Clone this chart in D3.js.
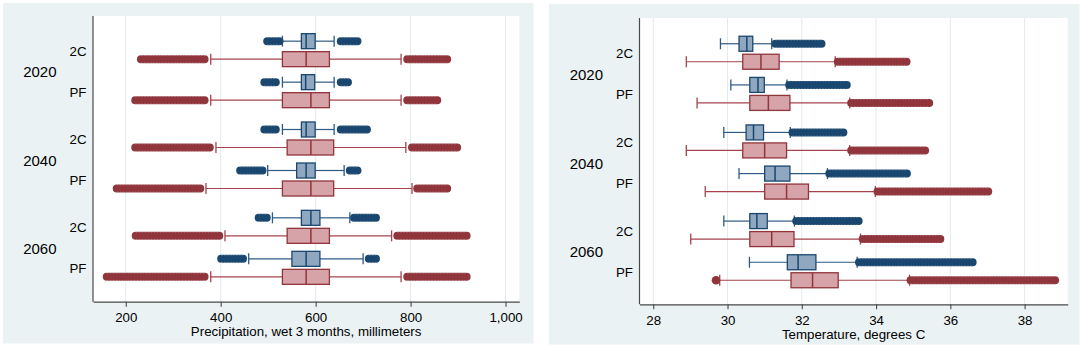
<!DOCTYPE html>
<html><head><meta charset="utf-8">
<script src="https://cdn.jsdelivr.net/npm/d3@7"></script>
<style>
html,body{margin:0;padding:0;background:#fff}
svg{display:block}
text{font-family:"Liberation Sans",Arial,Helvetica,sans-serif;fill:#000}
</style>
</head><body>
<svg id="chart" width="1084" height="347"></svg>
<script>
// ---------------- DATA ----------------
const years = ["2020", "2040", "2060"];
const scenarios = ["2C", "PF"];
const seriesNames = ["series1", "series2"];   // navy boxes, maroon boxes

// rows in order: 2020 2C, 2020 PF, 2040 2C, 2040 PF, 2060 2C, 2060 PF
// box = [lower whisker, q1, median, q3, upper whisker]; outliers = [first, last] extent or null

// Precipitation, wet 3 months, millimeters
const precipSeries1Box = [
  [530, 570, 580, 599, 639],
  [530, 570, 579, 598, 639],
  [530, 570, 580, 599, 639],
  [499, 560, 580, 599, 660],
  [509, 570, 590, 609, 672],
  [459, 550, 580, 609, 700]
];
const precipSeries1LowOut  = [[498, 524], [492, 516], [492, 516], [441, 488], [480, 497], [401, 447]];
const precipSeries1HighOut = [[653, 688], [653, 668], [653, 708], [672, 688], [681, 727], [712, 727]];

const precipSeries2Box = [
  [379, 530, 580, 629, 780],
  [379, 530, 590, 629, 780],
  [390, 540, 590, 638, 790],
  [369, 530, 590, 638, 803],
  [409, 540, 590, 629, 760],
  [379, 530, 580, 629, 780]
];
const precipSeries2LowOut  = [[232, 366], [220, 366], [220, 377], [181, 357], [221, 397], [160, 366]];
const precipSeries2HighOut = [[793, 877], [793, 856], [803, 898], [814, 877], [772, 918], [793, 918]];

const precipTicks = [200, 400, 600, 800, 1000];
const precipDomain = [131, 1029];

// Temperature, degrees C
const tempSeries1Box = [
  [29.81, 30.31, 30.52, 30.68, 31.19],
  [30.09, 30.60, 30.82, 30.99, 31.60],
  [29.90, 30.50, 30.70, 30.97, 31.69],
  [30.31, 31.00, 31.28, 31.68, 32.69],
  [29.90, 30.60, 30.79, 31.07, 31.80],
  [30.59, 31.61, 31.90, 32.38, 33.49]
];
const tempSeries1LowOut  = [null, null, null, null, null, null];
const tempSeries1HighOut = [[31.29, 32.53], [31.66, 33.21], [31.75, 33.12], [32.74, 34.83], [31.85, 33.53], [33.54, 36.60]];

const tempSeries2Box = [
  [28.89, 30.41, 30.90, 31.39, 32.90],
  [29.18, 30.60, 31.10, 31.68, 33.29],
  [28.89, 30.41, 31.00, 31.59, 33.29],
  [29.40, 31.00, 31.59, 32.18, 33.98],
  [29.01, 30.60, 31.19, 31.79, 33.58],
  [29.79, 31.71, 32.29, 32.98, 34.90]
];
const tempSeries2LowOut  = [null, null, null, null, null, [29.69, 29.69]];
const tempSeries2HighOut = [[32.97, 34.82], [33.33, 35.43], [33.33, 35.32], [34.04, 37.02], [33.64, 35.73], [34.93, 38.82]];

const tempTicks = [28, 30, 32, 34, 36, 38];
const tempDomain = [27.63, 39.16];

// ---------------- STYLE ----------------
const COLORS = {
  bg: "#EAF2F3",
  grid: "#E2EBEE",
  axis: "#4a4a4a",
  series1: { line: "#1A476F", fill: "#90A8BF", whisker: "#2E5A84" },
  series2: { line: "#90353B", fill: "#D6A3A8", whisker: "#A4434B" }
};

const svg = d3.select("#chart");

function drawPanel(cfg) {
  const g = svg.append("g");
  g.append("rect").attr("x", cfg.bg[0]).attr("y", cfg.bg[1])
    .attr("width", cfg.bg[2] - cfg.bg[0]).attr("height", cfg.bg[3] - cfg.bg[1])
    .attr("fill", COLORS.bg);
  g.append("rect").attr("x", cfg.plot[0]).attr("y", cfg.plot[1])
    .attr("width", cfg.plot[2] - cfg.plot[0]).attr("height", cfg.plot[3] - cfg.plot[1])
    .attr("fill", "#fff");

  const x = d3.scaleLinear().domain(cfg.domain).range([cfg.plot[0], cfg.plot[2]]);
  const yYear = d3.scaleBand().domain(years).range([cfg.plot[1] + cfg.inset[0], cfg.plot[3] - cfg.inset[1]]);
  const yScen = d3.scalePoint().domain(scenarios).range([0, yYear.bandwidth()]).padding(0.577);
  const ySer = d3.scalePoint().domain(seriesNames).range([-9, 9]);

  g.append("g").selectAll("line").data(cfg.ticks).join("line")
    .attr("x1", d => x(d)).attr("x2", d => x(d))
    .attr("y1", cfg.plot[1]).attr("y2", cfg.plot[3])
    .attr("stroke", COLORS.grid).attr("stroke-width", 1);

  const rows = [];
  years.forEach(yr => scenarios.forEach(sc => rows.push({ yr, sc })));

  const boxH = 15, capH = 11, outW = 8;
  cfg.series.forEach((s, si) => {
    const name = seriesNames[si];
    const col = COLORS[name];
    const sg = g.append("g");
    rows.forEach((r, ri) => {
      const cy = yYear(r.yr) + yScen(r.sc) + ySer(name);
      const [wl, q1, md, q3, wh] = s.box[ri];
      sg.append("line").attr("x1", x(wl)).attr("x2", x(q1)).attr("y1", cy).attr("y2", cy)
        .attr("stroke", col.whisker).attr("stroke-width", 1.2);
      sg.append("line").attr("x1", x(q3)).attr("x2", x(wh)).attr("y1", cy).attr("y2", cy)
        .attr("stroke", col.whisker).attr("stroke-width", 1.2);
      [wl, wh].forEach(v => sg.append("line").attr("x1", x(v)).attr("x2", x(v))
        .attr("y1", cy - capH / 2).attr("y2", cy + capH / 2)
        .attr("stroke", col.whisker).attr("stroke-width", 1.3));
      sg.append("rect").attr("x", x(q1)).attr("y", cy - boxH / 2)
        .attr("width", x(q3) - x(q1)).attr("height", boxH)
        .attr("fill", col.fill).attr("stroke", col.line).attr("stroke-width", 1.3);
      sg.append("line").attr("x1", x(md)).attr("x2", x(md))
        .attr("y1", cy - boxH / 2).attr("y2", cy + boxH / 2)
        .attr("stroke", col.line).attr("stroke-width", 1.5);
      [s.low[ri], s.high[ri]].forEach(o => {
        if (!o) return;
        if (o[0] === o[1]) {
          sg.append("circle").attr("cx", x(o[0])).attr("cy", cy).attr("r", outW / 2 + 0.3)
            .attr("fill", col.line);
        } else {
          sg.append("line").attr("x1", x(o[0])).attr("x2", x(o[1])).attr("y1", cy).attr("y2", cy)
            .attr("stroke", col.line).attr("stroke-width", outW).attr("stroke-linecap", "round");
          [-1, 1].forEach(sgn => sg.append("line").attr("x1", x(o[0])).attr("x2", x(o[1]))
            .attr("y1", cy + sgn * (outW / 2 - 0.4)).attr("y2", cy + sgn * (outW / 2 - 0.4))
            .attr("stroke", "#fff").attr("stroke-opacity", 0.3).attr("stroke-width", 0.8)
            .attr("stroke-dasharray", "1.5,1.5"));
        }
      });
    });
  });

  g.append("line").attr("x1", cfg.plot[0]).attr("x2", cfg.plot[0])
    .attr("y1", cfg.plot[1]).attr("y2", cfg.plot[3])
    .attr("stroke", COLORS.axis).attr("stroke-width", 1.2);

  rows.forEach(r => {
    g.append("text").attr("x", cfg.plot[0] - 6.5).attr("y", yYear(r.yr) + yScen(r.sc) + 1)
      .attr("text-anchor", "end").attr("dominant-baseline", "central")
      .style("font-size", "13.3px").text(r.sc);
  });
  years.forEach(yr => {
    g.append("text").attr("x", cfg.plot[0] - 36.5).attr("y", yYear(yr) + yYear.bandwidth() / 2 + 1)
      .attr("text-anchor", "end").attr("dominant-baseline", "central")
      .style("font-size", "15px").text(yr);
  });

  const ax = g.append("g").attr("transform", `translate(0,${cfg.plot[3]})`)
    .call(d3.axisBottom(x).tickValues(cfg.ticks).tickSize(5).tickSizeOuter(0)
      .tickPadding(6).tickFormat(cfg.fmt));
  ax.select(".domain").attr("stroke", COLORS.axis).attr("stroke-width", 1.2);
  ax.selectAll(".tick line").attr("stroke", COLORS.axis).attr("stroke-width", 1.1);
  ax.selectAll(".tick text").style("font-size", "13.3px")
    .style("font-family", '"Liberation Sans",Arial,sans-serif').attr("fill", "#000");

  g.append("text").attr("x", (cfg.plot[0] + cfg.plot[2]) / 2).attr("y", cfg.plot[3] + 30)
    .attr("text-anchor", "middle").attr("dominant-baseline", "central")
    .style("font-size", "13.3px").text(cfg.title);
}

drawPanel({
  bg: [3, 3, 533.5, 343.5],
  plot: [93, 16, 519.3, 301.7],
  inset: [10.5, 10.2],
  domain: precipDomain,
  ticks: precipTicks,
  fmt: d3.format(","),
  title: "Precipitation, wet 3 months, millimeters",
  series: [
    { box: precipSeries1Box, low: precipSeries1LowOut, high: precipSeries1HighOut },
    { box: precipSeries2Box, low: precipSeries2LowOut, high: precipSeries2HighOut }
  ]
});

drawPanel({
  bg: [549, 4, 1079.5, 344.5],
  plot: [639.5, 18, 1067.7, 304.3],
  inset: [11, 9.3],
  domain: tempDomain,
  ticks: tempTicks,
  fmt: d3.format("d"),
  title: "Temperature, degrees C",
  series: [
    { box: tempSeries1Box, low: tempSeries1LowOut, high: tempSeries1HighOut },
    { box: tempSeries2Box, low: tempSeries2LowOut, high: tempSeries2HighOut }
  ]
});
</script>
</body></html>
